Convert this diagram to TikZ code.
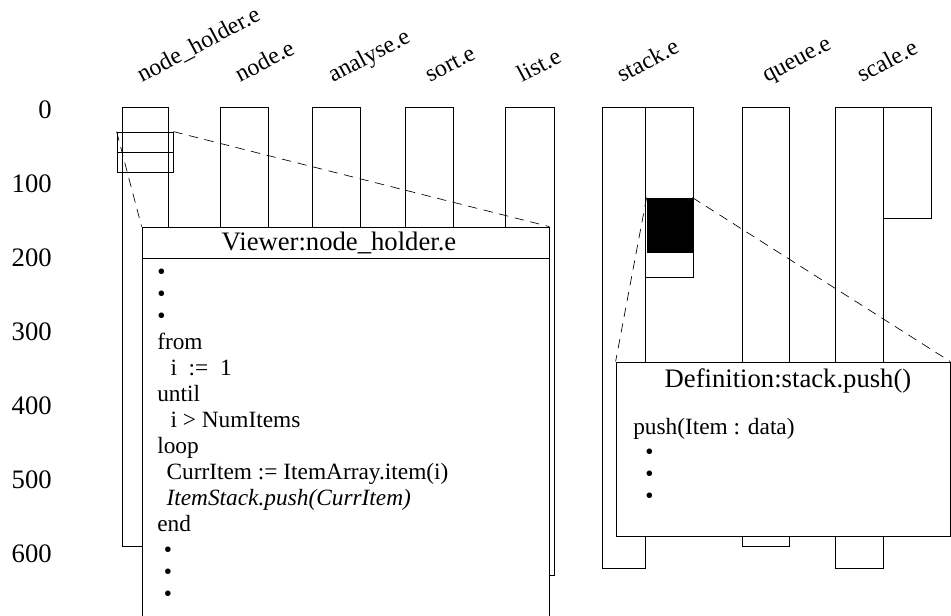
\documentclass[tikz,border=0pt]{standalone}
\usepackage{fontspec}
\setmainfont{Liberation Serif}
\usetikzlibrary{positioning}

\begin{document}
\begin{tikzpicture}[x=0.75pt,y=-0.75pt,
    column/.style={draw, line width=0.6pt},
    window/.style={draw, line width=0.6pt, fill=white, inner sep=0pt},
    zoomline/.style={dash pattern=on 7pt off 5pt, line width=0.5pt},
    fname/.style={rotate=28, anchor=base west, inner sep=0pt, font=\fontsize{18}{20}\selectfont},
    tick/.style={anchor=east, inner sep=0pt, font=\fontsize{20}{22}\selectfont},
    wtitle/.style={inner sep=0pt, font=\fontsize{20}{22}\selectfont},
    code/.style={anchor=north west, align=left, inner sep=0pt, font=\fontsize{17.5}{19.5}\selectfont}
]
\useasboundingbox (0,0) rectangle (951,615);

% scale on the left
\foreach \v [count=\i from 0] in {0,100,...,600}
    \node[tick] (tick\v) at (52,110+74*\i) {\v};

% file names
\node[fname] (fholder) at (142,83) {node\_holder.e};
\node[fname] (fnode)   at (240,83) {node.e};
\node[fname] (fanal)   at (333,83) {analyse.e};
\node[fname] (fsort)   at (430,83) {sort.e};
\node[fname] (flist)   at (522,83) {list.e};
\node[fname] (fstack)  at (622,83) {stack.e};
\node[fname] (fqueue)  at (767,83) {queue.e};
\node[fname] (fscale)  at (862,83) {scale.e};

% columns
\foreach \xa/\xb/\yb in {122/168/546, 220/268/546, 312/360/546, 405/453/546,
    505/554/575, 602/645/568, 645/693/277, 742/789/546, 835/883/568, 883/931/218}
    \draw[column] (\xa,107) rectangle (\xb,\yb);

% zoomed regions
\node[column, minimum width=42pt, minimum height=30pt, inner sep=0pt] (zoomholder) at (145,152) {};
\draw[column] (zoomholder.west) -- (zoomholder.east);
\node[column, fill=black, minimum width=33.75pt, minimum height=40.5pt, inner sep=0pt] (zoomstack) at (669.5,225) {};

% windows
\node[window, minimum width=305.25pt, minimum height=309.75pt] (viewer) at (345.5,433.5) {};
\draw[column] (142,258) -- (549,258);
\node[wtitle] (vtitle) at (339,243) {Viewer:node\_holder.e};
\node[code] (vcode) at (157,269) {%
  \textbullet\\[-3pt]
  \textbullet\\[-3pt]
  \textbullet\\
  from\\
  \hspace*{10pt}i\ \ :=\ \ 1\\
  until\\
  \hspace*{10pt}i > NumItems\\
  loop\\
  \hspace*{7pt}CurrItem := ItemArray.item(i)\\
  \hspace*{7pt}\textit{ItemStack.push(CurrItem)}\\
  end\\
  \hspace*{5pt}\textbullet\\[-3pt]
  \hspace*{5pt}\textbullet\\[-3pt]
  \hspace*{5pt}\textbullet};

\node[window, minimum width=250.5pt, minimum height=130.5pt] (defn) at (783,449) {};
\node[wtitle] (dtitle) at (788,381) {Definition:stack.push()};
\node[code] (dcode) at (633,418) {%
  push(Item : data)\\[-1pt]
  \hspace*{9pt}\textbullet\\[-3pt]
  \hspace*{9pt}\textbullet\\[-3pt]
  \hspace*{9pt}\textbullet};

% zoom lines
\draw[zoomline] (zoomholder.north west) -- (viewer.north west);
\draw[zoomline] (zoomholder.north east) -- (viewer.north east);
\draw[zoomline] (zoomstack.north west) -- (defn.north west);
\draw[zoomline] (zoomstack.north east) -- (defn.north east);
\end{tikzpicture}
\end{document}
